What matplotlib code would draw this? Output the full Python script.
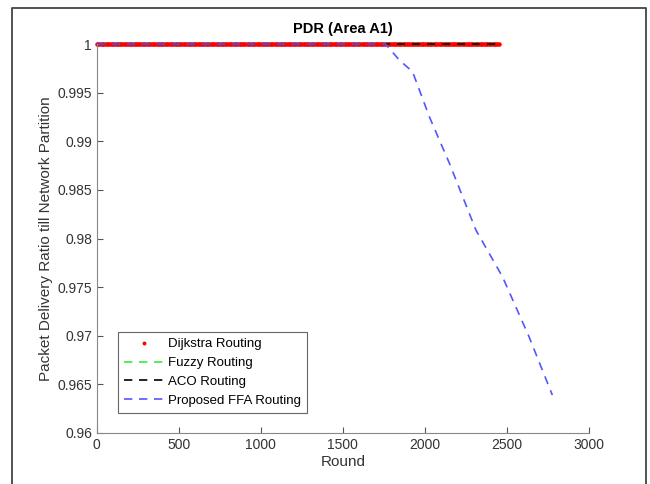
import numpy as np
import matplotlib
matplotlib.use("Agg")
import matplotlib.pyplot as plt
from matplotlib.lines import Line2D

plt.rcParams['font.family'] = ['Liberation Sans', 'DejaVu Sans']

# Dijkstra / Fuzzy / ACO: stay at 1 until network partition (~2450 rounds)
dijkstra_rounds = np.arange(0, 2451, 10)
dijkstra_pdr = np.ones(len(dijkstra_rounds))
fuzzy_rounds = [0, 500, 1000, 1500, 2000, 2450]
fuzzy_pdr = [1, 1, 1, 1, 1, 1]
aco_rounds = [0, 500, 1000, 1500, 2000, 2440]
aco_pdr = [1, 1, 1, 1, 1, 1]
ffa_rounds = [0, 500, 1000, 1500, 1700, 1760, 1844, 1925, 2027, 2149, 2311, 2473, 2635, 2777]
ffa_pdr = [1, 1, 1, 1, 1, 1, 0.99835, 0.99715, 0.99253, 0.98776, 0.98087, 0.97607, 0.9699, 0.9639]

fig = plt.figure(figsize=(6.5, 4.84), dpi=100)
ax = fig.add_axes([0.149, 0.1054, 0.757, 0.8036])

ax.plot(dijkstra_rounds, dijkstra_pdr, '.', color='red', markersize=4.5, label='Dijkstra Routing', clip_on=False)
ax.plot(fuzzy_rounds, fuzzy_pdr, '--', color='#33ee33', lw=1.2, dashes=(5, 4), label='Fuzzy Routing', clip_on=False)
ax.plot(aco_rounds, aco_pdr, '--', color='black', lw=1.2, dashes=(5, 4), label='ACO Routing', clip_on=False)
ax.plot(ffa_rounds, ffa_pdr, '--', color='#5555ff', lw=1.2, dashes=(5, 4), label='Proposed FFA Routing', clip_on=False)

ax.set_xlim(0, 3000)
ax.set_ylim(0.96, 1.0)
ax.set_xticks([0, 500, 1000, 1500, 2000, 2500, 3000])
ax.set_yticks([0.96, 0.965, 0.97, 0.975, 0.98, 0.985, 0.99, 0.995, 1.0])
ax.set_yticklabels(['0.96', '0.965', '0.97', '0.975', '0.98', '0.985', '0.99', '0.995', '1'])
ax.tick_params(direction='in', length=4, colors='#555555', labelsize=10, labelcolor='#333333')
ax.spines['top'].set_visible(False)
ax.spines['right'].set_visible(False)
ax.spines['left'].set_color('#888888')
ax.spines['bottom'].set_color('#888888')

ax.set_title('PDR (Area A1)', fontsize=10.5, fontweight='bold', pad=8)
ax.set_xlabel('Round', fontsize=11, color='#333333', labelpad=2)
ax.set_ylabel('Packet Delivery Ratio till Network Partition', fontsize=11, color='#333333', labelpad=3)

leg = ax.legend(loc='lower left', bbox_to_anchor=(0.03, 0.035), fontsize=9.5, fancybox=False,
                framealpha=1, edgecolor='#666666', handlelength=3.0, handletextpad=0.3,
                borderpad=0.45, labelspacing=0.5, markerscale=0.8)
leg.get_frame().set_linewidth(0.8)

# outer frame of the exported figure
fx = [12 / 650, 12 / 650, 646 / 650, 646 / 650]
fy = [0.0, 1 - 8 / 484, 1 - 8 / 484, 0.0]
fig.add_artist(Line2D(fx, fy, transform=fig.transFigure, color='#444444', lw=1.3))

fig.savefig('out.png', dpi=100)
